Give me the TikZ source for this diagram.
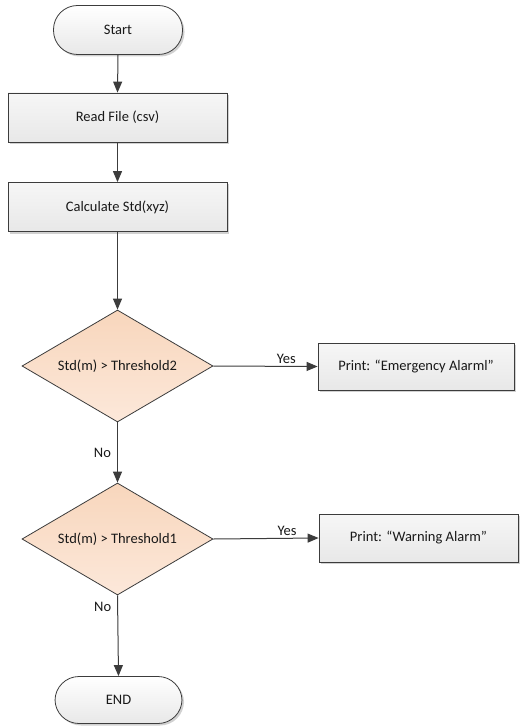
\documentclass[tikz,border=0pt]{standalone}
\usepackage{fontspec}
\setmainfont{Carlito}
\usetikzlibrary{shapes.geometric,shadows,arrows.meta}
\definecolor{linegray}{RGB}{60,60,60}
\definecolor{peachtop}{RGB}{248,214,188}
\definecolor{peachbot}{RGB}{252,232,218}
\definecolor{boxtop}{RGB}{246,246,246}
\definecolor{boxbot}{RGB}{232,232,232}
\tikzset{
  base/.style={draw=linegray, line width=0.8pt, font=\fontsize{14.5}{17}\selectfont,
               text=black!90, inner sep=0pt},
  softshadow/.style={drop shadow={shadow xshift=2pt, shadow yshift=-2pt,
               fill=black, opacity=0.18}},
  terminal/.style={base, rectangle, rounded corners=24pt, minimum width=129pt,
               minimum height=49pt, top color=white, bottom color=boxbot, softshadow},
  process/.style={base, rectangle, minimum width=219pt, minimum height=49pt,
               top color=boxtop, bottom color=boxbot, softshadow},
  decision/.style={base, diamond, aspect=1.7, minimum width=191pt,
               minimum height=112pt, top color=peachtop, bottom color=peachbot},
  flow/.style={draw=linegray, line width=1pt,
               -{Triangle[length=11pt,width=9pt]}},
  lbl/.style={font=\fontsize{14.5}{17}\selectfont, text=black!90}
}
\begin{document}
\begin{tikzpicture}[x=1pt,y=-1pt]
  \useasboundingbox[fill=white] (0,0) rectangle (520,727);

  % main column
  \node[terminal] (start) at (118,30) {Start};
  \node[process]  (read)  at (117.5,117.5) {Read File (csv)};
  \node[process]  (calc)  at (117.5,207) {Calculate Std(xyz)};
  \node[decision] (d2)    at (117.5,366) {Std(m) > Threshold2};
  \node[decision] (d1)    at (117.5,539) {Std(m) > Threshold1};
  \node[terminal, minimum width=127pt, minimum height=47pt] (end) at (118.5,700) {END};

  % alarm outputs
  \node[process, minimum width=196pt, minimum height=47pt] (emerg) at (416,366.5)
       {Print: “Emergency Alarml”};
  \node[process, minimum width=199pt, minimum height=48pt] (warn) at (418.5,538)
       {Print: “Warning Alarm”};

  % connectors
  \draw[flow] (start.south) -- (read.north);
  \draw[flow] (read.south) -- (calc.north);
  \draw[flow] (calc.south) -- (d2.north);
  \draw[flow] (d2.east) -- node[lbl, pos=0.7, anchor=south, inner sep=2pt] {Yes} (emerg.west);
  \draw[flow] (d2.south) -- node[lbl, pos=0.5, anchor=east, inner sep=6pt] {No} (d1.north);
  \draw[flow] (d1.east) -- node[lbl, pos=0.7, anchor=south, inner sep=2pt] {Yes} (warn.west);
  \draw[flow] (d1.south) -- node[lbl, pos=0.14, anchor=east, inner sep=6pt] {No} (end.north);
\end{tikzpicture}
\end{document}
